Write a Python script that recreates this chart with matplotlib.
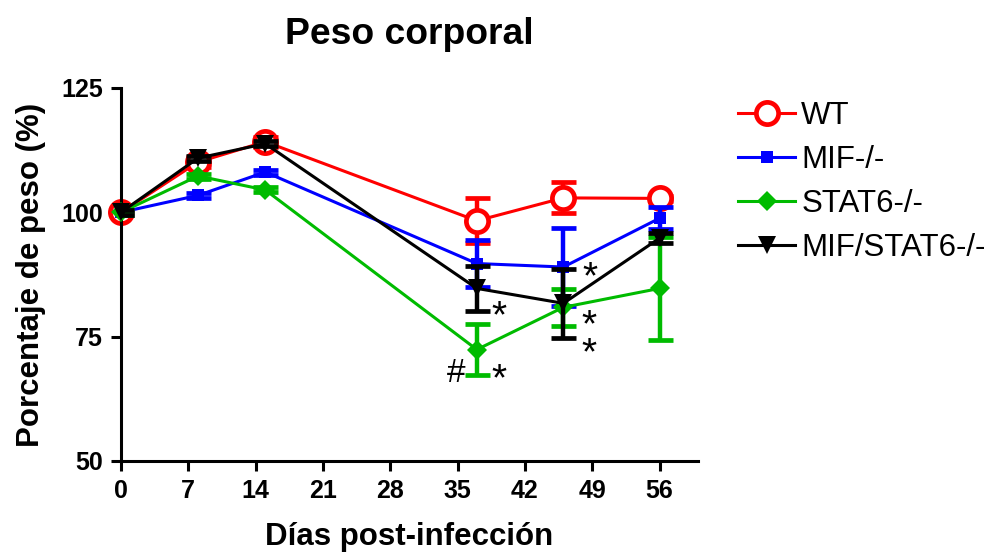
import matplotlib
matplotlib.use("Agg")
from matplotlib import pyplot as plt

# Body weight over time, mean +/- SEM per group
days = [0, 8, 15, 37, 46, 56]

wt_mean = [100, 110.1, 114.2, 98.3, 102.9, 102.8]
wt_err = [0.5, 1.0, 1.0, 4.5, 3.1, 0.5]

mif_mean = [100, 103.4, 108.1, 89.7, 89.0, 98.8]
mif_err = [0.5, 0.5, 0.5, 4.7, 7.8, 2.2]

stat6_mean = [100, 107.3, 104.5, 72.4, 80.9, 84.7]
stat6_err = [0.5, 0.5, 0.5, 5.2, 3.7, 10.3]

double_mean = [100, 110.9, 113.8, 84.7, 81.7, 94.8]
double_err = [0.5, 0.5, 0.5, 4.5, 6.9, 1.0]

series_labels = ["WT", "MIF-/-", "STAT6-/-", "MIF/STAT6-/-"]

x_ticks = [0, 7, 14, 21, 28, 35, 42, 49, 56]
y_ticks = [50, 75, 100, 125]

# significance marks (day, anchor value, text)
sig_marks = [
    (34.8, 67.5, "#"),
    (39.3, 66.2, "*"),
    (39.3, 78.8, "*"),
    (48.8, 86.7, "*"),
    (48.7, 74.3, "*\n*"),
]

plt.rcParams['font.family'] = ['Liberation Sans', 'DejaVu Sans']

fig = plt.figure(figsize=(9.93, 5.52), dpi=100)
ax = fig.add_axes([0.1219, 0.1649, 0.5810, 0.6757])

styles = [
    dict(color='#ff0000', marker='o', ms=16, mfc='white', mew=3.4),
    dict(color='#0000ff', marker='s', ms=9, mfc='#0000ff', mew=0),
    dict(color='#00bb00', marker='D', ms=10, mfc='#00bb00', mew=0),
    dict(color='#000000', marker='v', ms=13, mfc='#000000', mew=0),
]
data = [(wt_mean, wt_err), (mif_mean, mif_err),
        (stat6_mean, stat6_err), (double_mean, double_err)]

handles = []
for k, ((m, e), st, lab) in enumerate(zip(data, styles, series_labels)):
    ax.errorbar(days, m, yerr=e, fmt='none', ecolor=st['color'],
                elinewidth=3.2, capsize=9, capthick=3.4, zorder=2 + k)
    h, = ax.plot(days, m, color=st['color'], lw=2.2, marker=st['marker'],
                 ms=st['ms'], mfc=st['mfc'], mec=st['color'], mew=st['mew'],
                 label=lab, zorder=2.5 + k, clip_on=False)
    handles.append(h)

for d, v, s in sig_marks:
    if s == "#":
        ax.text(d, v, s, ha='center', va='center', fontsize=24, color='black')
    else:
        ax.text(d, v, s, ha='center', va='center', fontsize=28,
                linespacing=0.73, color='black')

ax.set_xlim(0, 60)
ax.set_ylim(50, 125)
ax.set_xticks(x_ticks)
ax.set_yticks(y_ticks)

for side in ['top', 'right']:
    ax.spines[side].set_visible(False)
for side in ['left', 'bottom']:
    ax.spines[side].set_linewidth(2.2)
ax.tick_params(width=2.2, length=7, direction='out', pad=6)
for lab in ax.get_xticklabels() + ax.get_yticklabels():
    lab.set_fontweight('bold')
    lab.set_fontsize(18)

ax.set_title("Peso corporal", fontsize=26.8, fontweight='bold', pad=32)
ax.set_xlabel("Días post-infección", fontsize=22.5, fontweight='bold', labelpad=14)
ax.set_ylabel("Porcentaje de peso (%)", fontsize=22.5, fontweight='bold', labelpad=11)

fig.legend(handles=handles, labels=series_labels, loc='upper left',
           bbox_to_anchor=(0.715, 0.868), frameon=False, fontsize=22.5,
           handlelength=1.82, handletextpad=0.2, labelspacing=0.45)

fig.savefig("out.png", dpi=100)
